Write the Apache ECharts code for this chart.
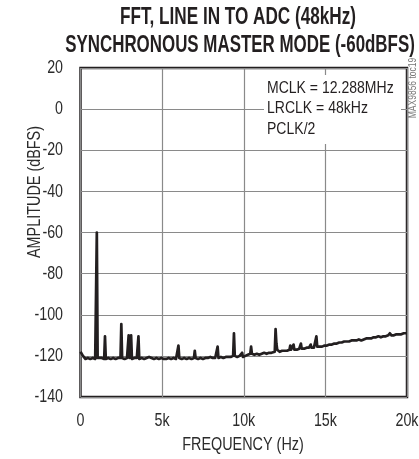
<!DOCTYPE html>
<html>
<head>
<meta charset="utf-8">
<script src="https://cdn.jsdelivr.net/npm/echarts@6/dist/echarts.min.js"></script>
<style>html,body{margin:0;padding:0;background:#fff}#c{width:419px;height:459px}</style>
</head>
<body>
<div id="c"></div>
<script>
var FONT = "'Liberation Sans', Arial, sans-serif";

var titleLines = ["FFT, LINE IN TO ADC (48kHz)", "SYNCHRONOUS MASTER MODE (-60dBFS)"];
var noteLines = ["MCLK = 12.288MHz", "LRCLK = 48kHz", "PCLK/2"];
var xAxisTitle = "FREQUENCY (Hz)";
var yAxisTitle = "AMPLITUDE (dBFS)";
var figureTag = "MAX9856 toc19";
var xTickValues = [0, 5000, 10000, 15000, 20000];
var xTickLabels = ["0", "5k", "10k", "15k", "20k"];
var yTickValues = [20, 0, -20, -40, -60, -80, -100, -120, -140];
var yTickLabels = ["20", "0", "-20", "-40", "-60", "-80", "-100", "-120", "-140"];

var freqHz = [
  0,150,300,450,600,750,900,950,1000,1050,1150,1300,1450,1500,1550,1700,1850,2000,2150,2300,
  2450,2500,2550,2700,2850,2950,3000,3050,3100,3150,3300,3450,3550,3600,3750,3900,4050,4200,4350,4500,
  4650,4800,4950,5100,5250,5400,5550,5700,5850,5950,6000,6050,6200,6350,6500,6650,6800,6950,7000,7050,
  7200,7350,7500,7650,7800,7950,8100,8250,8350,8400,8450,8600,8750,8900,9050,9200,9350,9400,9450,9600,
  9750,9900,9950,10100,10250,10400,10450,10500,10650,10800,10950,11100,11250,11400,11550,11700,11900,11950,12000,12050,
  12200,12350,12500,12650,12800,12850,12900,13000,13050,13100,13250,13400,13500,13550,13700,13850,14000,14100,14150,14300,
  14450,14500,14650,14800,14950,15100,15250,15400,15550,15700,15850,16000,16150,16300,16450,16600,16750,16900,17050,17200,
  17350,17500,17650,17800,17950,18100,18250,18400,18550,18700,18850,18950,19050,19200,19350,19500,19650,19800,20000
];
var ampDbfs = [
  -118,-120,-121.5,-121,-121.5,-121,-121.5,-121,-60,-121,-121.5,-121,-121.5,-110.5,-121.5,-121,-121.5,-121,-121.5,-121,
  -121,-104.5,-121,-121.5,-121,-110,-121,-121,-110,-121.5,-121,-121,-110.5,-121.5,-121,-121.5,-121,-120.5,-121,-121.5,
  -121,-121.5,-121,-121.5,-121.5,-121,-121.5,-121,-121.5,-121,-115,-121,-121.5,-121,-121.5,-121,-121.5,-121,-117.5,-121,
  -121.5,-121,-121.5,-121,-121,-120.5,-121,-121,-120.5,-115.5,-121,-120.5,-121,-120.5,-120.5,-120.5,-120,-109,-120,-120.5,
  -120,-118.5,-120.5,-120,-119.5,-119,-115.5,-119,-119.5,-119,-119.5,-119,-118.5,-119,-118.5,-118.5,-118,-107,-114,-117,
  -118,-117.5,-117.5,-117.5,-117,-115,-117,-117,-114.5,-117,-117,-116.5,-114,-116.5,-116.5,-116,-116,-114.5,-116,-116,
  -110.5,-115.5,-115.5,-115.5,-115,-115,-114.5,-114.5,-114,-114,-113.5,-113.5,-113,-113,-113,-112.5,-112.5,-112.5,-112,-112.5,
  -112,-111.5,-111.5,-111.5,-111,-111,-110.5,-111,-110.5,-110.5,-110,-109,-110,-110,-109.5,-109.5,-109.5,-109,-109
];

var seriesData = freqHz.map(function (f, i) { return [f, ampDbfs[i]]; });

var INK = '#231f20';
var LABEL = '#2b2b2b';

var chart = echarts.init(document.getElementById('c'), null, { renderer: 'canvas' });
chart.setOption({
  animation: false,
  backgroundColor: '#ffffff',
  grid: {
    left: 80.5, right: 12, top: 68, bottom: 62,
    show: true, borderColor: INK, borderWidth: 2.5, backgroundColor: 'transparent'
  },
  xAxis: {
    type: 'value', min: 0, max: 20000, interval: 5000,
    axisLine: { show: false }, axisTick: { show: false }, axisLabel: { show: false },
    splitLine: { show: true, lineStyle: { color: '#8a8a8a', width: 1.2 } }
  },
  yAxis: {
    type: 'value', min: -140, max: 20, interval: 20,
    axisLine: { show: false }, axisTick: { show: false }, axisLabel: { show: false },
    splitLine: { show: true, lineStyle: { color: '#8a8a8a', width: 1.2 } }
  },
  series: [{
    type: 'line', data: seriesData, symbol: 'none', z: 3,
    lineStyle: { color: INK, width: 2.7, join: 'round' }
  }]
});

function txt(x, y, s, size, opts) {
  opts = opts || {};
  return {
    type: 'text', x: x, y: y, z: opts.z || 10,
    rotation: opts.rotation || 0,
    scaleX: opts.sx || 1,
    style: {
      text: s, fill: opts.fill || LABEL,
      font: (opts.weight || 'normal') + ' ' + size + 'px ' + FONT,
      textAlign: opts.align || 'center', textVerticalAlign: 'middle'
    }
  };
}

var gridLeft = chart.convertToPixel({ xAxisIndex: 0 }, 0);
var gridBottom = chart.convertToPixel({ yAxisIndex: 0 }, -140);
var gfx = [];
xTickValues.forEach(function (v, i) {
  gfx.push(txt(chart.convertToPixel({ xAxisIndex: 0 }, v), gridBottom + 24, xTickLabels[i], 19, { sx: 0.75 }));
});
yTickValues.forEach(function (v, i) {
  gfx.push(txt(gridLeft - 17.5, chart.convertToPixel({ yAxisIndex: 0 }, v), yTickLabels[i], 19, { sx: 0.75, align: 'right' }));
});
gfx.push(txt(238, 18, titleLines[0], 23.5, { sx: 0.73, weight: 'bold', fill: INK }));
gfx.push(txt(240, 46, titleLines[1], 23.5, { sx: 0.72, weight: 'bold', fill: INK }));
gfx.push({ type: 'rect', z: 5, shape: { x: 264, y: 75, width: 137, height: 69 }, style: { fill: '#ffffff' } });
gfx.push(txt(267, 88, noteLines[0], 16.5, { sx: 0.85, align: 'left', fill: INK }));
gfx.push(txt(267, 108.5, noteLines[1], 16.5, { sx: 0.85, align: 'left', fill: INK }));
gfx.push(txt(267, 129.5, noteLines[2], 16.5, { sx: 0.85, align: 'left', fill: INK }));
gfx.push(txt(413, 88, figureTag, 10, { rotation: Math.PI / 2, sx: 0.85, fill: '#777777' }));
gfx.push(txt(35, 192, yAxisTitle, 18, { rotation: Math.PI / 2, sx: 0.8 }));
gfx.push(txt(243, 445, xAxisTitle, 18, { sx: 0.8 }));

chart.setOption({ graphic: gfx });
</script>
</body>
</html>
